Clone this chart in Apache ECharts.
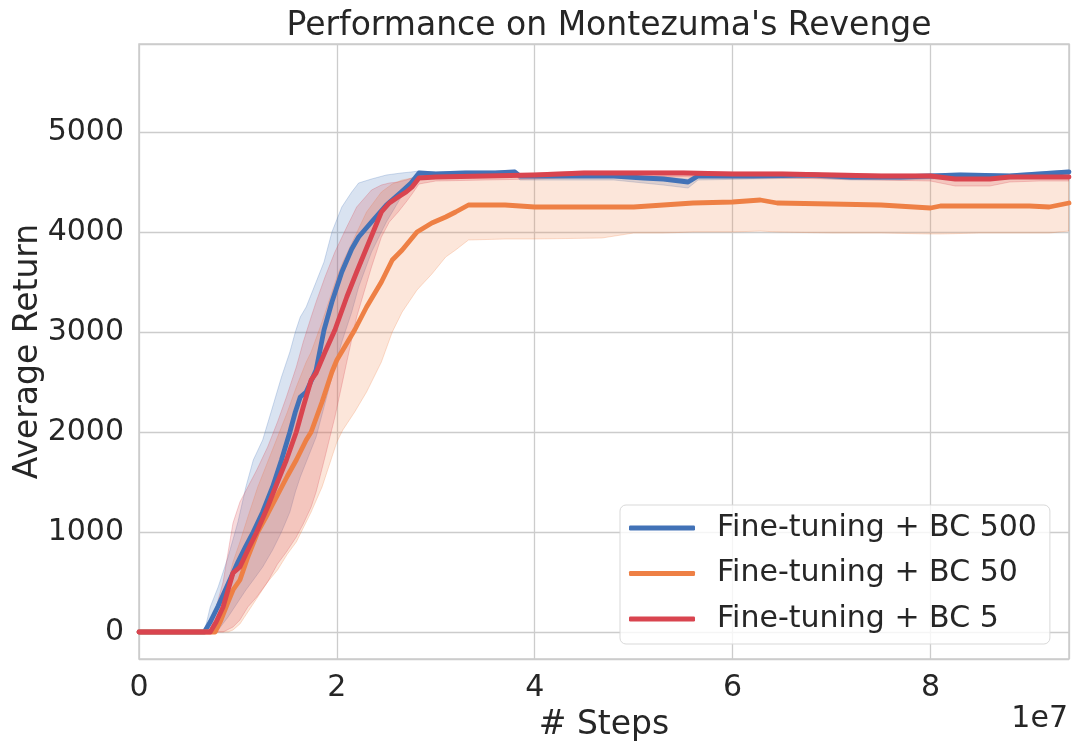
<html>
<head>
<meta charset="utf-8" />
<title>Performance on Montezuma's Revenge</title>
<script src="https://cdn.jsdelivr.net/npm/echarts@6/dist/echarts.min.js"></script>
<style>
  html, body { margin: 0; padding: 0; background: #ffffff; }
  #chart { width: 1079px; height: 751px; }
</style>
</head>
<body>
<div id="chart"></div>
<script>
// x values are in units of 1e7 steps
const blueX    = [0, 0.66, 0.72, 0.8, 0.9, 1.0, 1.08, 1.155, 1.25, 1.35, 1.44, 1.525, 1.58, 1.63, 1.69, 1.79, 1.87, 1.95, 2.05, 2.15, 2.22, 2.35, 2.5, 2.65, 2.75, 2.83, 3.0, 3.3, 3.6, 3.8, 3.85, 4.3, 4.8, 5.1, 5.3, 5.55, 5.65, 6.2, 6.8, 7.2, 7.7, 8.3, 8.8, 9.1, 9.4];
const blueMean = [0, 0, 100, 260, 480, 700, 860, 1000, 1200, 1450, 1720, 2000, 2200, 2350, 2400, 2620, 3020, 3300, 3600, 3830, 3950, 4100, 4270, 4400, 4490, 4590, 4580, 4590, 4590, 4600, 4560, 4560, 4560, 4540, 4530, 4500, 4560, 4560, 4570, 4550, 4550, 4570, 4560, 4580, 4600];
const blueHi   = [0, 0, 250, 450, 750, 1100, 1450, 1720, 1920, 2250, 2550, 2800, 3000, 3150, 3250, 3500, 3700, 4000, 4250, 4400, 4490, 4530, 4570, 4590, 4600, 4610, 4600, 4610, 4610, 4620, 4580, 4580, 4580, 4560, 4550, 4530, 4580, 4580, 4590, 4570, 4570, 4590, 4580, 4600, 4620];
const blueLo   = [0, 0, 0, 20, 150, 300, 420, 520, 650, 820, 1000, 1200, 1400, 1550, 1700, 1950, 2250, 2550, 2900, 3200, 3450, 3800, 4100, 4350, 4480, 4560, 4550, 4560, 4560, 4570, 4520, 4520, 4520, 4490, 4470, 4440, 4520, 4530, 4540, 4520, 4520, 4540, 4530, 4550, 4570];

const orangeX    = [0, 0.77, 0.82, 0.9, 0.95, 1.02, 1.1, 1.2, 1.3, 1.4, 1.5, 1.59, 1.69, 1.74, 1.85, 1.95, 2.0, 2.06, 2.18, 2.3, 2.45, 2.56, 2.66, 2.81, 2.96, 3.1, 3.2, 3.33, 3.7, 4.0, 4.68, 5.0, 5.3, 5.6, 6.0, 6.28, 6.45, 7.0, 7.5, 8.0, 8.1, 8.5, 9.0, 9.2, 9.4];
const orangeMean = [0, 0, 100, 300, 420, 520, 750, 1000, 1180, 1370, 1560, 1720, 1920, 2000, 2300, 2600, 2720, 2820, 3020, 3250, 3500, 3720, 3820, 4000, 4090, 4150, 4200, 4270, 4270, 4250, 4250, 4250, 4270, 4290, 4300, 4320, 4290, 4280, 4270, 4240, 4260, 4260, 4260, 4250, 4290];
const orangeHi   = [0, 0, 200, 500, 700, 900, 1150, 1450, 1700, 1950, 2200, 2450, 2700, 2800, 3100, 3400, 3550, 3700, 3950, 4200, 4400, 4480, 4520, 4550, 4560, 4560, 4560, 4560, 4560, 4550, 4550, 4550, 4560, 4560, 4560, 4570, 4560, 4560, 4550, 4540, 4540, 4550, 4550, 4550, 4560];
const orangeLo   = [0, 0, 0, 0, 20, 80, 200, 350, 500, 620, 780, 900, 1100, 1200, 1450, 1750, 1900, 2020, 2200, 2400, 2700, 3000, 3200, 3420, 3580, 3750, 3820, 3920, 3930, 3930, 3940, 3990, 3990, 4000, 4000, 4010, 4000, 3990, 3990, 3980, 3980, 3990, 3990, 3990, 4010];

const redX    = [0, 0.72, 0.78, 0.85, 0.95, 1.02, 1.1, 1.19, 1.3, 1.4, 1.49, 1.59, 1.66, 1.74, 1.79, 1.88, 1.98, 2.1, 2.2, 2.35, 2.45, 2.53, 2.62, 2.7, 2.76, 2.83, 3.0, 3.5, 4.0, 4.5, 5.0, 5.5, 6.0, 6.5, 7.0, 7.5, 8.0, 8.25, 8.6, 8.8, 9.1, 9.4];
const redMean = [0, 0, 100, 250, 590, 650, 820, 1000, 1250, 1500, 1720, 2000, 2250, 2520, 2590, 2800, 3020, 3350, 3600, 3960, 4200, 4290, 4350, 4400, 4450, 4540, 4550, 4560, 4570, 4590, 4590, 4590, 4580, 4580, 4570, 4560, 4560, 4530, 4530, 4550, 4550, 4550];
const redHi   = [0, 0, 250, 500, 1090, 1300, 1450, 1620, 1850, 2100, 2350, 2650, 2900, 3150, 3300, 3550, 3800, 4050, 4250, 4420, 4470, 4490, 4500, 4520, 4540, 4570, 4570, 4580, 4590, 4610, 4610, 4610, 4600, 4600, 4590, 4580, 4580, 4560, 4560, 4570, 4570, 4570];
const redLo   = [0, 0, 0, 0, 50, 120, 250, 350, 500, 680, 800, 950, 1080, 1250, 1400, 1750, 2150, 2700, 3150, 3650, 3950, 4100, 4200, 4300, 4380, 4480, 4510, 4520, 4530, 4550, 4550, 4550, 4540, 4540, 4530, 4520, 4510, 4460, 4460, 4500, 4510, 4510];

const seriesNames = ['Fine-tuning + BC 500', 'Fine-tuning + BC 50', 'Fine-tuning + BC 5'];
const xTicks = [0, 2, 4, 6, 8];

const font = 'DejaVu Sans';
const ink = '#262626';
const colors = ['#4272b7', '#ee8045', '#d9444f'];
const bandFill = ['rgba(66,114,183,0.2)', 'rgba(238,128,69,0.2)', 'rgba(217,68,79,0.2)'];
const bandEdge = ['rgba(66,114,183,0.25)', 'rgba(238,128,69,0.25)', 'rgba(217,68,79,0.25)'];

const groups = [
    { x: blueX, mean: blueMean, lo: blueLo, hi: blueHi },
    { x: orangeX, mean: orangeMean, lo: orangeLo, hi: orangeHi },
    { x: redX, mean: redMean, lo: redLo, hi: redHi }
];

// one polygon per band: upper edge forward, lower edge backward
function bandRenderer(k) {
    return function (params, api) {
        if (params.dataIndexInside !== 0) return;
        const n = params.dataInsideLength;
        let pts = [];
        for (let i = 0; i < n; i++) pts.push(api.coord([api.value(0, i), api.value(2, i)]));
        for (let i = n - 1; i >= 0; i--) pts.push(api.coord([api.value(0, i), api.value(1, i)]));
        return {
            type: 'polygon',
            shape: { points: pts },
            style: { fill: bandFill[k], stroke: bandEdge[k], lineWidth: 1 }
        };
    };
}

let series = [];
groups.forEach(function (g, k) {
    series.push({
        name: 'band-' + k,
        type: 'custom',
        silent: true,
        z: 1,
        clip: true,
        renderItem: bandRenderer(k),
        encode: { x: 0, y: [1, 2] },
        data: g.x.map(function (x, i) { return [x, g.lo[i], g.hi[i]]; })
    });
});
groups.forEach(function (g, k) {
    series.push({
        name: seriesNames[k],
        type: 'line',
        symbol: 'none',
        z: 3 + k,
        color: colors[k],
        lineStyle: { width: 4.8, color: colors[k], cap: 'round', join: 'round' },
        data: g.x.map(function (x, i) { return [x, g.mean[i]]; })
    });
});

let chart = echarts.init(document.getElementById('chart'));

chart.setOption({
    animation: false,
    backgroundColor: '#ffffff',
    textStyle: { fontFamily: font },
    title: {
        text: "Performance on Montezuma's Revenge",
        left: 604,
        top: 5,
        textAlign: 'center',
        textStyle: { fontFamily: font, fontSize: 33, fontWeight: 'normal', color: ink }
    },
    grid: {
        left: 139,
        right: 10,
        top: 44,
        bottom: 92,
        containLabel: false,
        outerBoundsMode: 'none',
        show: true,
        borderColor: '#cccccc',
        borderWidth: 1.5
    },
    xAxis: {
        type: 'value',
        min: 0,
        max: 9.4,
        interval: 2,
        name: '# Steps',
        nameLocation: 'middle',
        nameGap: 50,
        nameMoveOverlap: false,
        nameTextStyle: { fontFamily: font, fontSize: 33, color: ink },
        axisLine: { show: false },
        axisTick: { show: false },
        axisLabel: {
            fontFamily: font, fontSize: 30, color: ink, margin: 14,
            showMaxLabel: false,
            formatter: function (v) { return xTicks.indexOf(v) >= 0 ? String(v) : ''; }
        },
        splitLine: { lineStyle: { color: '#cccccc', width: 1.3 } }
    },
    yAxis: {
        type: 'value',
        min: -270,
        max: 5880,
        name: 'Average Return',
        nameLocation: 'middle',
        nameGap: 94,
        nameMoveOverlap: false,
        nameRotate: 90,
        nameTextStyle: { fontFamily: font, fontSize: 33, color: ink },
        axisLine: { show: false },
        axisTick: { show: false },
        axisLabel: {
            fontFamily: font, fontSize: 30, color: ink, margin: 15,
            showMinLabel: false, showMaxLabel: false,
            formatter: function (v) { return String(v); }
        },
        splitLine: { lineStyle: { color: '#cccccc', width: 1.3 } }
    },
    legend: {
        data: seriesNames,
        orient: 'vertical',
        left: 620,
        top: 505,
        padding: [8, 13, 10, 9],
        itemGap: 15.5,
        itemWidth: 66,
        itemHeight: 5,
        icon: 'roundRect',
        backgroundColor: 'rgba(255,255,255,0.8)',
        borderColor: '#d9d9d9',
        borderWidth: 1,
        borderRadius: 6,
        textStyle: { fontFamily: font, fontSize: 30, color: ink, lineHeight: 30, padding: [0, 0, 0, 17] }
    },
    graphic: [
        {
            type: 'text',
            right: 11,
            top: 704,
            style: { text: '1e7', font: '30px "DejaVu Sans"', fill: ink }
        }
    ],
    series: series
});
</script>
</body>
</html>
